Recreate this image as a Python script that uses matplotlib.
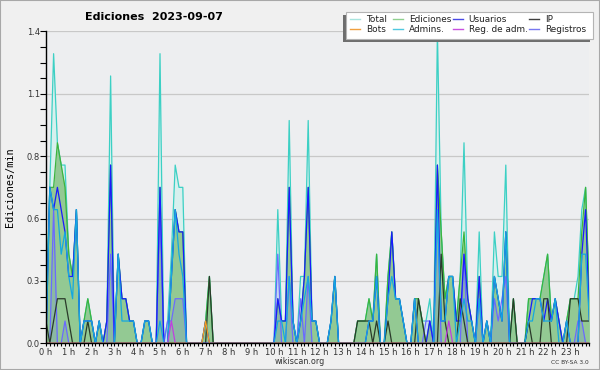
import matplotlib.pyplot as plt
from matplotlib.lines import Line2D
from matplotlib.patches import Rectangle
import numpy as np

# Nombre d'actions par tranche de 10 minutes (0h00 ... 23h50), 6 heures par ligne
total = [
    1, 7, 13, 9, 8, 8, 4, 3, 6, 0, 1, 2, 1, 0, 1, 0, 1, 12, 0, 4, 2, 2, 1, 1, 0, 0, 1, 1, 0, 0, 13, 0, 1, 4, 8, 7,
    7, 0, 0, 0, 0, 0, 1, 3, 0, 0, 0, 0, 0, 0, 0, 0, 0, 0, 0, 0, 0, 0, 0, 0, 0, 6, 1, 1, 10, 1, 0, 3, 3, 10, 1, 1,
    0, 0, 0, 1, 3, 0, 0, 0, 0, 0, 1, 1, 1, 2, 1, 4, 0, 0, 3, 5, 2, 2, 1, 0, 0, 2, 2, 1, 1, 2, 0, 14, 5, 2, 3, 3,
    1, 3, 9, 2, 1, 0, 5, 0, 1, 0, 5, 3, 3, 8, 0, 2, 0, 0, 0, 2, 2, 2, 2, 3, 4, 1, 2, 1, 0, 1, 2, 2, 3, 6, 7, 2,
]
ediciones = [
    1, 7, 7, 9, 8, 7, 4, 3, 6, 0, 1, 2, 1, 0, 1, 0, 1, 8, 0, 4, 2, 2, 1, 1, 0, 0, 1, 1, 0, 0, 7, 0, 0, 3, 6, 5,
    5, 0, 0, 0, 0, 0, 1, 3, 0, 0, 0, 0, 0, 0, 0, 0, 0, 0, 0, 0, 0, 0, 0, 0, 0, 2, 1, 1, 7, 1, 0, 1, 3, 7, 1, 1,
    0, 0, 0, 1, 3, 0, 0, 0, 0, 0, 1, 1, 1, 2, 1, 4, 0, 0, 3, 5, 2, 2, 1, 0, 0, 2, 2, 1, 0, 1, 0, 8, 5, 2, 3, 3,
    1, 3, 5, 2, 1, 0, 3, 0, 1, 0, 3, 2, 1, 5, 0, 2, 0, 0, 0, 2, 2, 2, 2, 3, 4, 1, 2, 1, 0, 1, 2, 2, 2, 5, 7, 2,
]
usuarios = [
    0, 7, 6, 7, 6, 5, 3, 3, 6, 0, 1, 1, 1, 0, 1, 0, 1, 8, 0, 4, 2, 2, 1, 1, 0, 0, 1, 1, 0, 0, 7, 0, 0, 3, 6, 5,
    5, 0, 0, 0, 0, 0, 1, 0, 0, 0, 0, 0, 0, 0, 0, 0, 0, 0, 0, 0, 0, 0, 0, 0, 0, 2, 1, 1, 7, 1, 0, 1, 3, 7, 1, 1,
    0, 0, 0, 1, 3, 0, 0, 0, 0, 0, 0, 0, 0, 1, 1, 3, 0, 0, 2, 5, 2, 2, 1, 0, 0, 2, 0, 0, 0, 1, 0, 8, 1, 1, 3, 3,
    1, 1, 4, 2, 1, 0, 3, 0, 1, 0, 3, 2, 1, 5, 0, 0, 0, 0, 0, 1, 2, 2, 2, 1, 2, 1, 2, 1, 0, 1, 0, 0, 0, 4, 6, 1,
]
ip = [
    1, 0, 1, 2, 2, 2, 1, 0, 0, 0, 0, 1, 0, 0, 0, 0, 0, 0, 0, 0, 0, 0, 0, 0, 0, 0, 0, 0, 0, 0, 0, 0, 0, 0, 0, 0,
    0, 0, 0, 0, 0, 0, 0, 3, 0, 0, 0, 0, 0, 0, 0, 0, 0, 0, 0, 0, 0, 0, 0, 0, 0, 0, 0, 0, 0, 0, 0, 0, 0, 0, 0, 0,
    0, 0, 0, 0, 0, 0, 0, 0, 0, 0, 1, 1, 1, 1, 0, 1, 0, 0, 1, 0, 0, 0, 0, 0, 0, 0, 2, 1, 0, 0, 0, 0, 4, 1, 0, 0,
    0, 2, 1, 0, 0, 0, 0, 0, 0, 0, 0, 0, 0, 0, 0, 2, 0, 0, 0, 1, 0, 0, 0, 2, 2, 0, 0, 0, 0, 0, 2, 2, 2, 1, 1, 1,
]
admins = [
    0, 7, 6, 6, 4, 5, 3, 2, 6, 0, 1, 1, 1, 0, 1, 0, 0, 0, 0, 4, 1, 1, 1, 1, 0, 0, 1, 1, 0, 0, 1, 0, 0, 3, 6, 4,
    3, 0, 0, 0, 0, 0, 0, 0, 0, 0, 0, 0, 0, 0, 0, 0, 0, 0, 0, 0, 0, 0, 0, 0, 0, 1, 1, 0, 3, 1, 0, 1, 2, 3, 1, 1,
    0, 0, 0, 1, 3, 0, 0, 0, 0, 0, 0, 0, 0, 1, 1, 3, 0, 0, 2, 3, 2, 2, 1, 0, 0, 2, 0, 0, 0, 0, 0, 6, 1, 1, 3, 3,
    0, 1, 2, 1, 1, 0, 2, 0, 1, 0, 3, 2, 1, 5, 0, 0, 0, 0, 0, 1, 1, 2, 2, 1, 1, 1, 2, 0, 0, 1, 0, 0, 0, 4, 4, 1,
]
registros = [
    0, 0, 6, 0, 0, 1, 0, 0, 0, 0, 0, 0, 0, 0, 0, 0, 0, 4, 0, 0, 0, 0, 0, 0, 0, 0, 0, 0, 0, 0, 6, 0, 1, 1, 2, 2,
    2, 0, 0, 0, 0, 0, 0, 0, 0, 0, 0, 0, 0, 0, 0, 0, 0, 0, 0, 0, 0, 0, 0, 0, 0, 4, 0, 0, 3, 0, 0, 2, 0, 3, 0, 0,
    0, 0, 0, 0, 0, 0, 0, 0, 0, 0, 0, 0, 0, 0, 0, 0, 0, 0, 0, 0, 0, 0, 0, 0, 0, 0, 0, 0, 1, 1, 0, 6, 0, 0, 0, 0,
    0, 0, 4, 0, 0, 0, 2, 0, 0, 0, 2, 1, 2, 3, 0, 0, 0, 0, 0, 0, 0, 0, 0, 0, 0, 0, 0, 0, 0, 0, 0, 0, 1, 1, 0, 0,
]
bots = [
    0, 0, 0, 0, 0, 0, 0, 0, 0, 0, 0, 0, 0, 0, 0, 0, 0, 0, 0, 0, 0, 0, 0, 0, 0, 0, 0, 0, 0, 0, 0, 0, 0, 0, 0, 0,
    0, 0, 0, 0, 0, 0, 1, 0, 0, 0, 0, 0, 0, 0, 0, 0, 0, 0, 0, 0, 0, 0, 0, 0, 0, 0, 0, 0, 0, 0, 0, 0, 0, 0, 0, 0,
    0, 0, 0, 0, 0, 0, 0, 0, 0, 0, 0, 0, 0, 0, 0, 0, 0, 0, 0, 0, 0, 0, 0, 0, 0, 0, 0, 0, 0, 0, 0, 0, 0, 0, 0, 0,
    0, 0, 0, 0, 0, 0, 0, 0, 0, 0, 0, 0, 0, 0, 0, 0, 0, 0, 0, 0, 0, 0, 0, 0, 0, 0, 0, 0, 0, 0, 0, 0, 0, 0, 0, 0,
]
reg_adm = [
    0, 0, 0, 0, 0, 0, 0, 0, 0, 0, 0, 0, 0, 0, 0, 0, 0, 0, 0, 0, 0, 0, 0, 0, 0, 0, 0, 0, 0, 0, 0, 0, 0, 1, 0, 0,
    0, 0, 0, 0, 0, 0, 0, 0, 0, 0, 0, 0, 0, 0, 0, 0, 0, 0, 0, 0, 0, 0, 0, 0, 0, 0, 0, 0, 0, 0, 0, 0, 0, 0, 0, 0,
    0, 0, 0, 0, 0, 0, 0, 0, 0, 0, 0, 0, 0, 0, 0, 0, 0, 0, 0, 0, 0, 0, 0, 0, 0, 0, 0, 0, 0, 0, 0, 0, 0, 0, 1, 0,
    0, 0, 0, 0, 0, 0, 0, 0, 0, 0, 0, 0, 0, 0, 0, 0, 0, 0, 0, 0, 0, 0, 0, 0, 0, 0, 0, 0, 0, 0, 0, 0, 0, 0, 0, 0,
]

hour_labels = [f"{h} h" for h in range(24)]
legend_rows = [["Total", "Ediciones", "Usuarios", "IP"],
               ["Bots", "Admins.", "Reg. de adm.", "Registros"]]
legend_colors = [["#a8e4de", "#8fd08f", "#4a4ae6", "#404040"],
                 ["#f0a040", "#50c8e0", "#c850e0", "#7878f0"]]

# Passage en éditions par minute, une valeur toutes les 10 minutes
t = np.arange(len(total)) / 6
per_min = lambda v: np.array(v) / 10

W, H = 600, 370
fig = plt.figure(figsize=(6, 3.7), dpi=100, facecolor="#f0f0f0")
ax = fig.add_axes([46 / W, 26.7 / H, 543.4 / W, 311.9 / H], facecolor="#edeef0")

# Aires puis courbes
ax.fill_between(t, per_min(total), color="#d7f0ee", lw=0)
ax.fill_between(t, per_min(ediciones), color="#93c993", lw=0)
ax.fill_between(t, per_min(registros), color="#6060ff", alpha=0.15, lw=0)
ax.plot(t, per_min(total), color="#3cd0c4", lw=0.9)
ax.plot(t, per_min(ediciones), color="#3cb43c", lw=0.9)
ax.plot(t, per_min(registros), color="#6a6aff", lw=0.9)
ax.plot(t, per_min(usuarios), color="#1a1aff", lw=0.9)
ax.plot(t, per_min(ip), color="#2a3a2a", lw=0.9)
ax.plot(t, per_min(admins), color="#14a8e0", lw=0.9)
ax.plot(t, per_min(reg_adm), color="#c040e0", lw=0.9)
ax.plot(t, per_min(bots), color="#f5a020", lw=0.9)

# Axes et graduations
ax.set_xlim(0, t[-1])
ax.set_ylim(0, 1.4)
ax.set_xticks(np.arange(24))
ax.set_xticklabels(hour_labels)
ax.set_xticks(t, minor=True)
yt = np.linspace(0, 1.4, 6)
ax.set_yticks(yt)
ax.set_yticklabels([f"{v:.1f}" for v in yt])
ax.set_yticks(np.linspace(0, 1.4, 21), minor=True)
ax.tick_params(axis="x", which="both", length=2.4, width=0.8, pad=1,
               labelsize=6, labelcolor="#333333")
ax.tick_params(axis="y", which="both", length=4, width=0.8, pad=0.5,
               labelsize=6, labelcolor="#333333")
ax.grid(axis="y", which="major", color="#c8c8c8", lw=0.9)
ax.set_axisbelow(True)
ax.spines[["top", "right"]].set_visible(False)
for s in ["left", "bottom"]:
    ax.spines[s].set_linewidth(1.0)
    ax.spines[s].set_color("black")

# Titre, étiquette de l'axe, pied de page
fig.text(85 / W, 1 - 16.5 / H, "Ediciones  2023-09-07", fontsize=8,
         fontweight="bold", va="center", ha="left")
fig.text(10 / W, 1 - 187 / H, "Ediciones/min", rotation=90,
         family="DejaVu Sans Mono", fontsize=7.3, va="center", ha="center")
fig.text(0.5, 1 - 361.5 / H, "wikiscan.org", fontsize=5.8, color="#333333",
         ha="center", va="center")
fig.text(589 / W, 1 - 362 / H, "CC BY-SA 3.0", fontsize=4.2, color="#333333",
         ha="right", va="center")

# Légende dessinée à la main (ombre décalée vers la gauche)
def box(x0, y0, x1, y1, **kw):
    fig.add_artist(Rectangle((x0 / W, 1 - y1 / H), (x1 - x0) / W, (y1 - y0) / H,
                             transform=fig.transFigure, **kw))

box(342.7, 15, 590, 41.7, facecolor="#6e6e6e", lw=0)
box(346, 11.7, 593, 39, facecolor="white", edgecolor="#b4b4b4", lw=0.8)
col_x = [350, 392.7, 452.7, 529]
row_y = [19.3, 29]
for r in range(2):
    for c in range(4):
        fy = 1 - row_y[r] / H
        fig.add_artist(Line2D([col_x[c] / W, (col_x[c] + 10) / W], [fy, fy],
                              transform=fig.transFigure,
                              color=legend_colors[r][c], lw=1))
        fig.text((col_x[c] + 16) / W, fy, legend_rows[r][c], fontsize=6.4,
                 color="#222222", va="center", ha="left")

# Cadre autour de l'image
fig.add_artist(Rectangle((0, 0), 1, 1, transform=fig.transFigure, fill=False,
                         edgecolor="#a8a8a8", lw=1.5))

fig.savefig("out.png", dpi=100, facecolor=fig.get_facecolor())
